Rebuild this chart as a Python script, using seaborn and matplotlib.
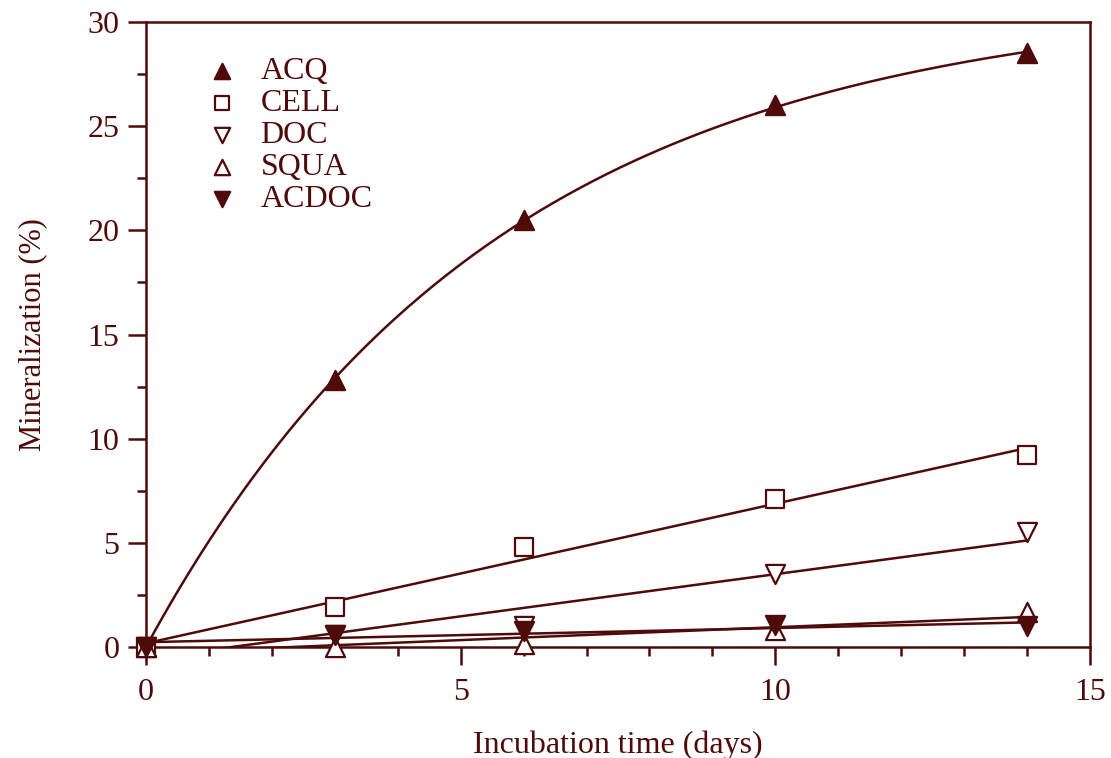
import numpy as np
import pandas as pd
import matplotlib
matplotlib.use("Agg")
import matplotlib.pyplot as plt
from matplotlib.ticker import MultipleLocator
import seaborn as sns

## Mineralization vs incubation time

days = [0, 3, 6, 10, 14]
acq = [0, 12.8, 20.5, 26.0, 28.5]
cell = [0, 1.9, 4.8, 7.1, 9.2]
doc = [0, 0.6, 1.0, 3.5, 5.5]
squa = [0, 0.0, 0.15, 0.8, 1.7]
acdoc = [0, 0.6, 0.75, 1.05, 1.0]

series_names = ["ACQ", "CELL", "DOC", "SQUA", "ACDOC"]
series_values = [acq, cell, doc, squa, acdoc]

col = "#4f0a0a"
sns.set_style("ticks")
plt.rcParams['font.family'] = ['Liberation Serif', 'DejaVu Serif']

df = pd.DataFrame({"days": np.tile(days, len(series_names)),
                   "value": np.concatenate(series_values),
                   "series": np.repeat(series_names, len(days))})

fig = plt.figure(figsize=(11.11, 7.58), dpi=100)
ax = fig.add_axes([0.1314, 0.1464, 0.8497, 0.8246])

# fitted curves: first-order for ACQ, linear for the rest
t = np.linspace(0, 14, 200)
x = np.array(days, dtype=float)
y = np.array(acq)
best = None
for k in np.linspace(0.01, 1, 2000):
    basis = 1 - np.exp(-k * x)
    A = (basis @ y) / (basis @ basis)
    err = ((A * basis - y) ** 2).sum()
    if best is None or err < best[0]:
        best = (err, A, k)
fits = {"ACQ": best[1] * (1 - np.exp(-best[2] * t))}
for name, vals in zip(series_names[1:], series_values[1:]):
    slope, icpt = np.polyfit(x, vals, 1)
    fits[name] = slope * t + icpt

for name in series_names:
    sns.lineplot(x=t, y=fits[name], ax=ax, color=col, linewidth=1.8, zorder=2)

styles = {
    "ACQ": dict(marker="^", fill=col),
    "CELL": dict(marker="s", fill="white"),
    "DOC": dict(marker="v", fill="white"),
    "SQUA": dict(marker="^", fill="white"),
    "ACDOC": dict(marker="v", fill=col),
}
sizes = {"s": 150, "^": 190, "v": 190}
for name in series_names:
    sub = df[df["series"] == name]
    st = styles[name]
    sns.scatterplot(data=sub, x="days", y="value", ax=ax, marker=st["marker"],
                    s=sizes[st["marker"]], color=st["fill"], edgecolor=col,
                    linewidth=1.6, zorder=3, clip_on=False, label=name)

ax.set_xlim(0, 15)
ax.set_ylim(0, 30)
ax.xaxis.set_major_locator(MultipleLocator(5))
ax.xaxis.set_minor_locator(MultipleLocator(1))
ax.yaxis.set_major_locator(MultipleLocator(5))
ax.yaxis.set_minor_locator(MultipleLocator(2.5))
ax.tick_params(which="major", direction="out", length=13, width=1.8, color=col,
               labelcolor=col, labelsize=23, pad=6)
ax.tick_params(axis="x", which="major", pad=9)
ax.tick_params(which="minor", direction="out", length=6.5, width=1.8, color=col)
for sp in ax.spines.values():
    sp.set_color(col)
    sp.set_linewidth(1.8)

ax.set_xlabel("Incubation time (days)", fontsize=23, color=col, labelpad=17)
ax.set_ylabel("Mineralization (%)", fontsize=22, color=col, labelpad=29)

leg = ax.legend(loc="upper left", bbox_to_anchor=(0.03, 0.99), frameon=False,
                fontsize=23, labelcolor=col, handletextpad=0.6, labelspacing=0.08,
                markerscale=0.8, handlelength=1.2)

fig.savefig("out.png", dpi=100)
